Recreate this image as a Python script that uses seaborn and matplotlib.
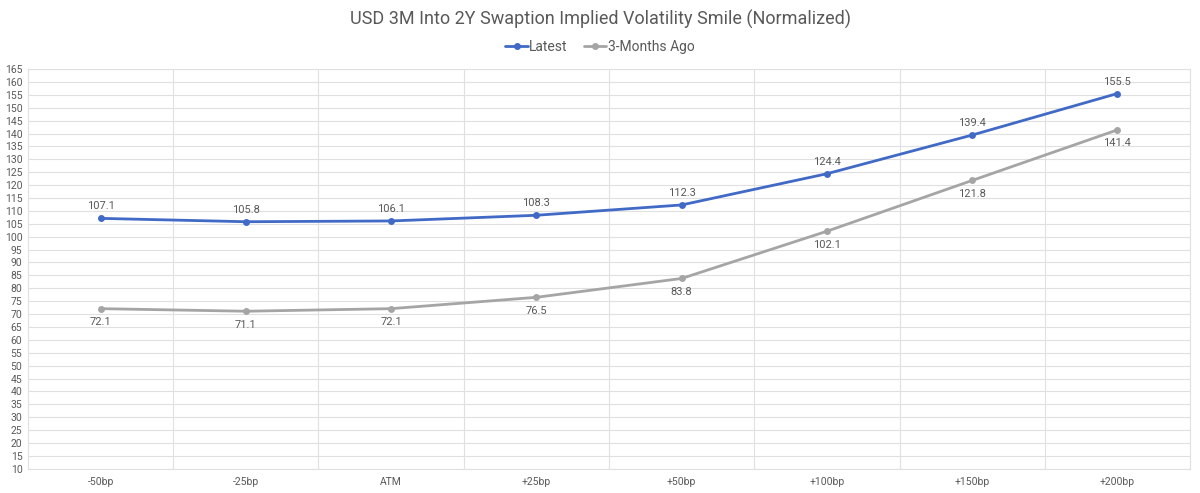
import matplotlib
matplotlib.use("Agg")
import matplotlib.pyplot as plt
import seaborn as sns
import pandas as pd

strikes = ["-50bp", "-25bp", "ATM", "+25bp", "+50bp", "+100bp", "+150bp", "+200bp"]
latest = [107.1, 105.8, 106.1, 108.3, 112.3, 124.4, 139.4, 155.5]
months_ago = [72.1, 71.1, 72.1, 76.5, 83.8, 102.1, 121.8, 141.4]
yticks = list(range(10, 170, 5))

BLUE = "#4169c6"
GRAY = "#a5a5a5"
TEXT = "#595959"

sns.set_theme(style="white")
plt.rcParams["font.family"] = ["Roboto", "DejaVu Sans"]

df = pd.DataFrame({
    "strike": strikes * 2,
    "pos": list(range(len(strikes))) * 2,
    "value": latest + months_ago,
    "series": ["Latest"] * len(strikes) + ["3-Months Ago"] * len(strikes),
})

fig = plt.figure(figsize=(12, 4.93), dpi=100)
ax = fig.add_axes([0.0233, 0.049, 0.9684, 0.811])

sns.lineplot(data=df, x="pos", y="value", hue="series",
             palette={"Latest": BLUE, "3-Months Ago": GRAY},
             marker="o", markersize=5, markeredgewidth=0, linewidth=2,
             ax=ax, legend=False)

for i, v in enumerate(latest):
    ax.annotate(f"{v:.1f}", (i, v), xytext=(0, 5), textcoords="offset points",
                ha="center", va="bottom", fontsize=8, color=TEXT)
for i, v in enumerate(months_ago):
    ax.annotate(f"{v:.1f}", (i, v), xytext=(0, -6), textcoords="offset points",
                ha="center", va="top", fontsize=8, color=TEXT)

ax.set_xlim(-0.5, len(strikes) - 0.5)
ax.set_ylim(10, 165)
ax.set_yticks(yticks)
ax.set_yticklabels([str(t) for t in yticks], fontsize=7.5, color=TEXT)
ax.set_xticks(range(len(strikes)))
ax.set_xticklabels(strikes, fontsize=7.5, color=TEXT)
ax.set_xticks([i + 0.5 for i in range(len(strikes) - 1)], minor=True)
ax.tick_params(axis="both", length=0, pad=6)
ax.tick_params(axis="y", pad=4)
ax.grid(axis="y", color="#e0e0e0", linewidth=0.8)
ax.grid(axis="x", which="minor", color="#e0e0e0", linewidth=0.8)
ax.set_axisbelow(True)
ax.set_xlabel("")
ax.set_ylabel("")
for s in ax.spines.values():
    s.set_color("#e0e0e0")
    s.set_linewidth(0.8)

fig.suptitle("USD 3M Into 2Y Swaption Implied Volatility Smile (Normalized)",
             y=0.98, fontsize=13, color=TEXT)

handles = [
    plt.Line2D([], [], color=BLUE, marker="o", markersize=4, linewidth=2, label="Latest"),
    plt.Line2D([], [], color=GRAY, marker="o", markersize=4, linewidth=2, label="3-Months Ago"),
]
fig.legend(handles=handles, loc="center", bbox_to_anchor=(0.5, 0.905), ncol=2,
           frameon=False, fontsize=10, handlelength=1.6, handletextpad=0.1,
           columnspacing=1.2, labelcolor=TEXT)

fig.savefig("out.png", dpi=100, facecolor="white")
